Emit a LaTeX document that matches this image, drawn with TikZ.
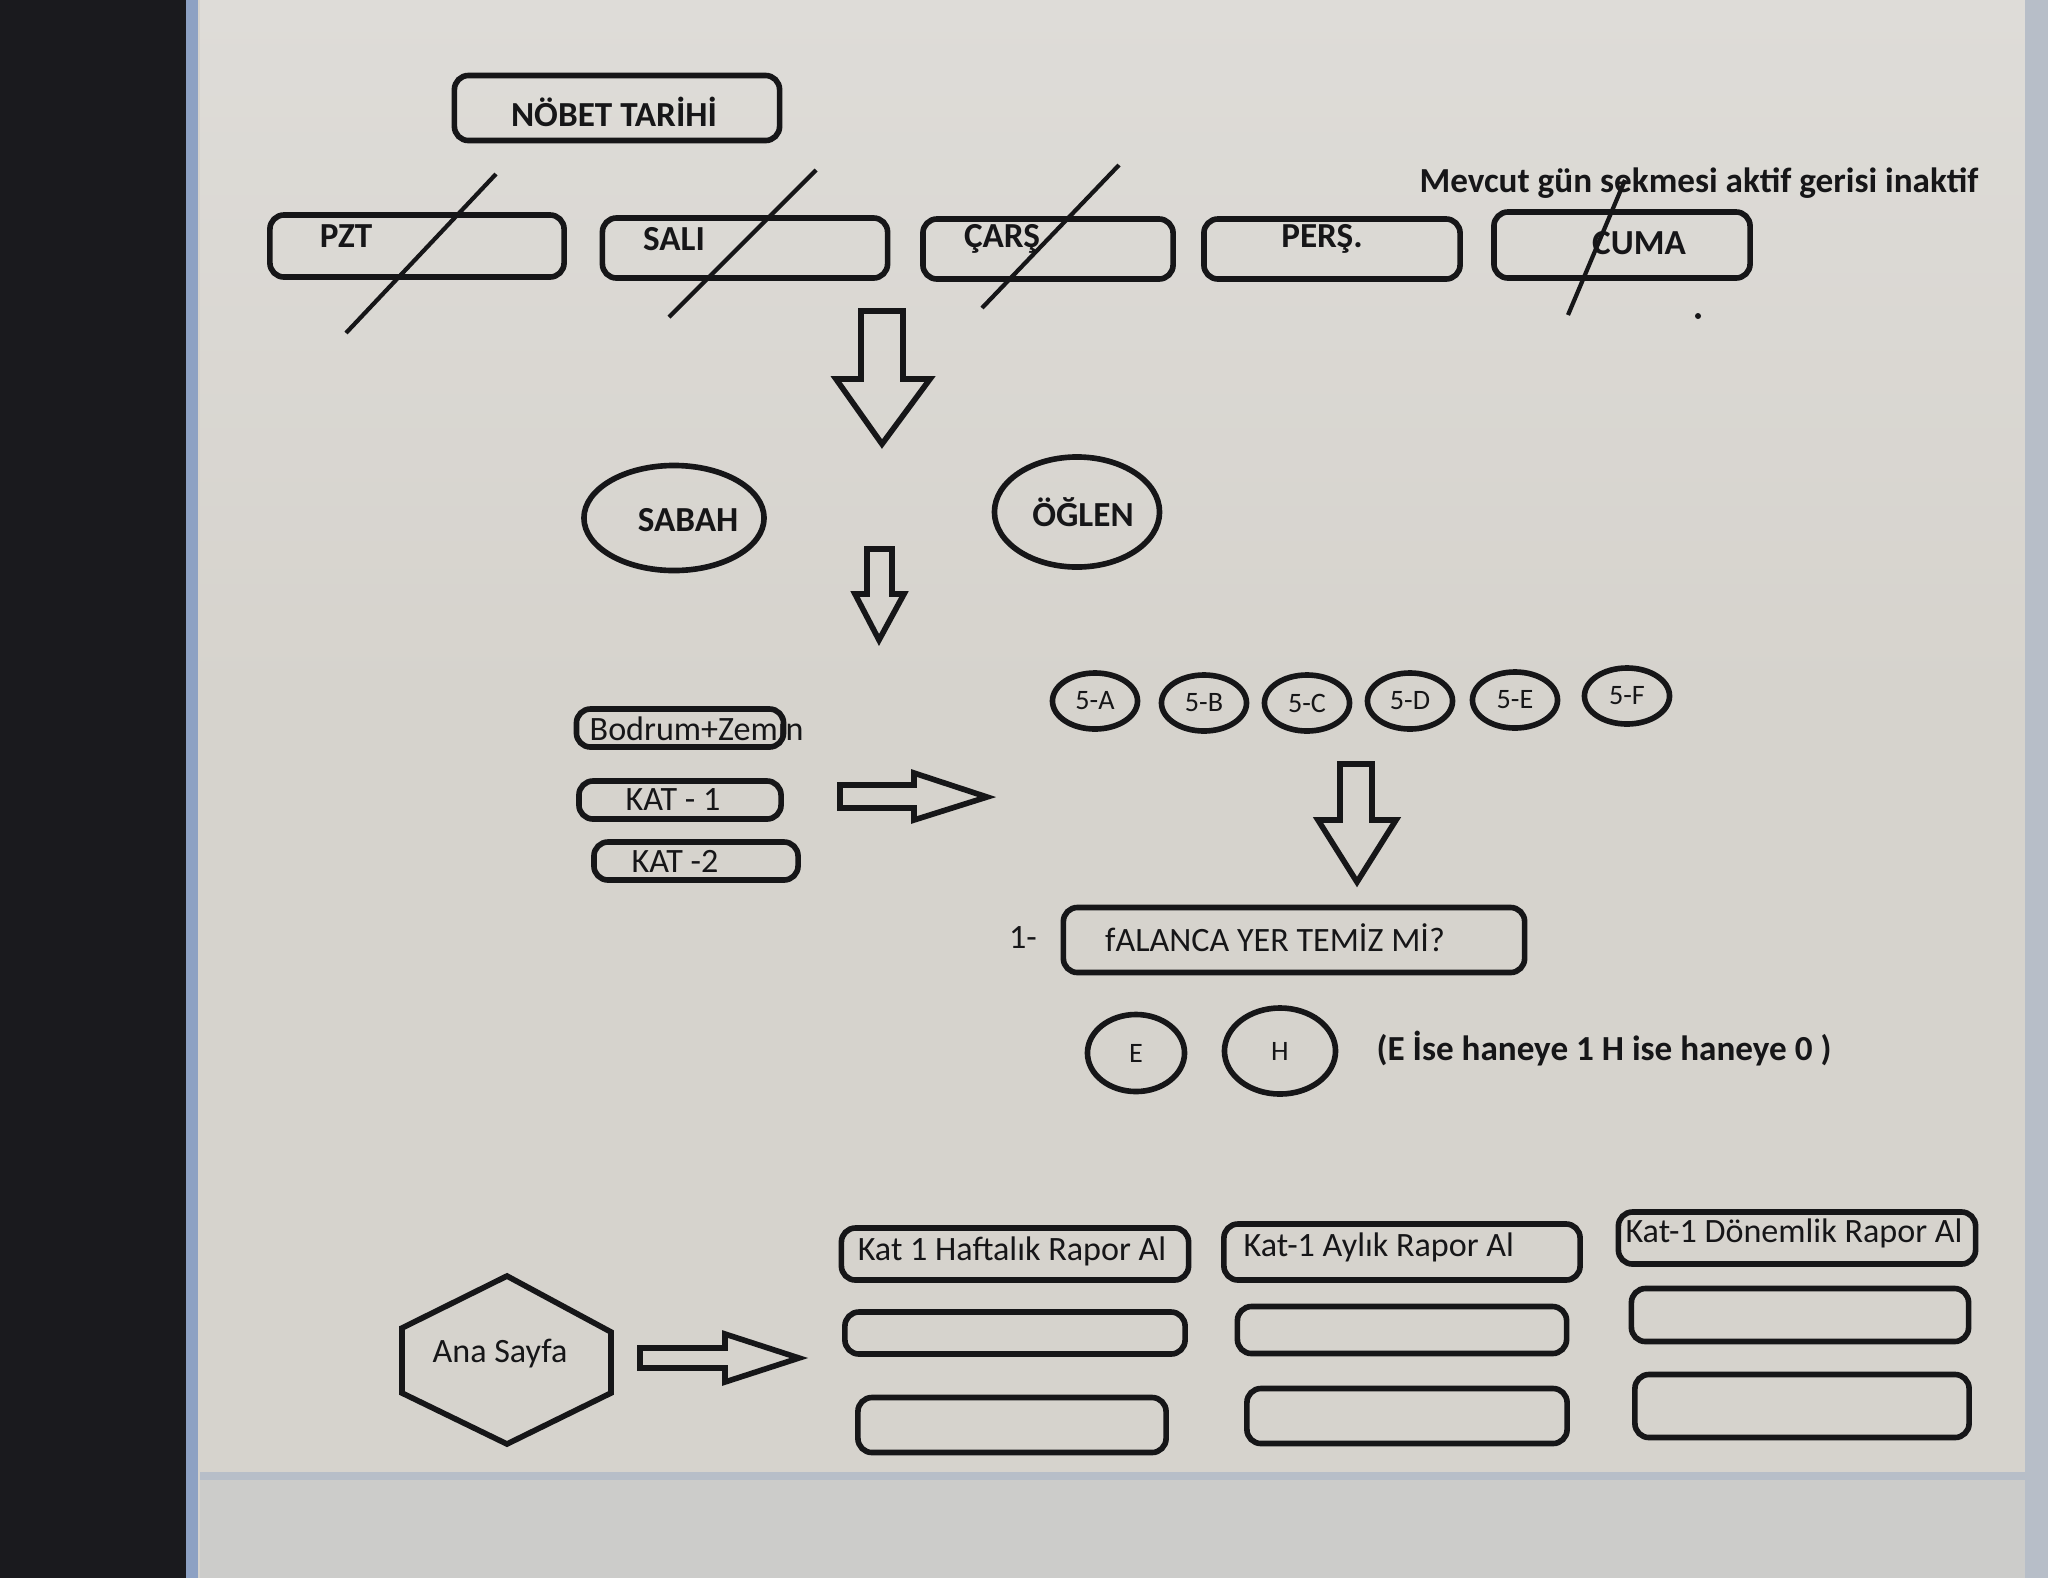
\documentclass[tikz,border=0pt]{standalone}
\usepackage{fontspec}
\setmainfont{Carlito}
\usetikzlibrary{shapes.geometric}
\definecolor{ink}{RGB}{22,22,24}
\definecolor{screen}{RGB}{214,211,205}
\definecolor{screentop}{RGB}{222,220,216}
\definecolor{bezel}{RGB}{26,26,30}
\definecolor{edgeblue}{RGB}{110,140,190}
\definecolor{lowband}{RGB}{204,204,202}
\begin{document}
\begin{tikzpicture}[x=0.01cm,y=-0.01cm,
  rbox/.style={draw=ink, line width=1.6pt, rounded corners=4pt, inner sep=0pt},
  oval/.style={draw=ink, ellipse, line width=1.6pt, inner sep=0pt},
  txt/.style={text=ink, inner sep=0pt, font=\fontsize{9.7}{12}\selectfont},
  btxt/.style={text=ink, inner sep=0pt, font=\fontsize{10}{12}\selectfont\bfseries},
  stxt/.style={text=ink, inner sep=0pt, font=\fontsize{8}{10}\selectfont},
  slash/.style={draw=ink, line width=1.2pt},
  blockarrow/.style={draw=ink, line width=1.6pt, line join=miter}]
\useasboundingbox (0,0) rectangle (2048,1578);
% screen and frame
\fill[screen] (0,0) rectangle (2048,1578);
\shade[top color=screentop, bottom color=screen] (200,0) rectangle (2025,700);
\fill[lowband] (200,1476) rectangle (2048,1578);
\fill[edgeblue!30!screen] (200,1472) rectangle (2025,1480);
\fill[edgeblue!30!screen] (2025,0) rectangle (2048,1578);
\fill[bezel] (0,0) rectangle (186,1578);
\fill[edgeblue!70!screen] (186,0) rectangle (198,1578);

% title
\node[rbox, minimum width=3.25cm, minimum height=0.65cm] (nobet) at (617,108) {};
\node[btxt] (nobett) at (614,112) {NÖBET TARİHİ};
\node[btxt] (note) at (1699,183) {Mevcut gün sekmesi aktif gerisi inaktif};

% day tabs
\node[rbox, minimum width=2.94cm, minimum height=0.62cm] (pzt) at (417,246) {};
\node[btxt] (pztt) at (346,236) {PZT};
\node[rbox, minimum width=2.85cm, minimum height=0.60cm] (sali) at (745,248) {};
\node[btxt] (salit) at (674,239) {SALI};
\node[rbox, minimum width=2.50cm, minimum height=0.60cm] (cars) at (1048,249) {};
\node[btxt] (carst) at (1002,239) {ÇARŞ};
\node[rbox, minimum width=2.56cm, minimum height=0.60cm] (pers) at (1332,249) {};
\node[btxt] (perst) at (1322,239) {PERŞ.};
\node[rbox, minimum width=2.56cm, minimum height=0.66cm] (cuma) at (1622,245) {};
\node[btxt] (cumat) at (1639,243) {CUMA};
% strike-through marks on passed days
\draw[slash] (496,174) -- (346,333);
\draw[slash] (816,170) -- (669,317);
\draw[slash] (1119,165) -- (982,308);
\draw[slash] (1625,180) -- (1568,315);
\fill[ink] (1698,316) circle (3);

% down arrow to shifts
\draw[blockarrow] (861,311) -- (903,311) -- (903,379) -- (930,379) -- (882,444) -- (836,379) -- (861,379) -- cycle;

% shifts
\node[oval, minimum width=1.80cm, minimum height=1.05cm] (sabah) at (674,518) {};
\node[btxt] (sabaht) at (688,520) {SABAH};
\node[oval, minimum width=1.65cm, minimum height=1.10cm] (oglen) at (1077,512) {};
\node[btxt] (oglent) at (1083,512) {ÖĞLEN};

\draw[blockarrow] (867,549) -- (892,549) -- (892,594) -- (904,594) -- (879,640) -- (855,594) -- (867,594) -- cycle;

% floors
\node[txt, anchor=west] (bodt) at (589,729) {Bodrum+Zemin};
\node[rbox, minimum width=2.07cm, minimum height=0.38cm] (bodrum) at (680,728) {};
\node[rbox, minimum width=2.02cm, minimum height=0.38cm] (kat1) at (680,800) {};
\node[txt] (kat1t) at (673,800) {KAT - 1};
\node[rbox, minimum width=2.04cm, minimum height=0.38cm] (kat2) at (696,861) {};
\node[txt] (kat2t) at (675,861) {KAT -2};
\draw[blockarrow] (840,785) -- (914,785) -- (914,773) -- (987,797) -- (914,820) -- (914,808) -- (840,808) -- cycle;

% classes
\foreach \n/\x/\y in {A/1095/701, B/1204/703, C/1307/703, D/1410/701, E/1515/700, F/1627/696}{
  \node[oval, minimum width=0.85cm, minimum height=0.56cm] (c\n) at (\x,\y) {};
  \node[stxt] (c\n t) at (\x,\y) {5-\n};
}
\draw[blockarrow] (1340,764) -- (1372,764) -- (1372,820) -- (1396,820) -- (1357,882) -- (1318,820) -- (1340,820) -- cycle;

% question
\node[txt] (qnum) at (1023,938) {1-};
\node[rbox, minimum width=4.61cm, minimum height=0.65cm] (q1) at (1294,940) {};
\node[txt] (q1t) at (1275,938) {fALANCA YER TEMİZ Mİ?};
\node[oval, minimum width=0.97cm, minimum height=0.77cm] (eans) at (1136,1053) {};
\node[stxt] (eanst) at (1136,1053) {E};
\node[oval, minimum width=1.11cm, minimum height=0.86cm] (hans) at (1280,1051) {};
\node[stxt] (hanst) at (1280,1051) {H};
\node[btxt] (rule) at (1604,1049) {(E İse haneye 1 H ise haneye 0 )};

% home and reports
\coordinate (h1) at (507,1276);
\coordinate (h2) at (611,1332);
\coordinate (h3) at (611,1393);
\coordinate (h4) at (507,1444);
\coordinate (h5) at (402,1393);
\coordinate (h6) at (402,1328);
\draw[draw=ink, line width=1.6pt] (h1) -- (h2) -- (h3) -- (h4) -- (h5) -- (h6) -- cycle;
\node[txt] (home) at (500,1354) {Ana Sayfa};
\draw[blockarrow] (640,1348) -- (725,1348) -- (725,1334) -- (799,1358) -- (725,1382) -- (725,1368) -- (640,1368) -- cycle;

\node[rbox, minimum width=3.47cm, minimum height=0.52cm] (r11) at (1015,1254) {};
\node[txt] (r11t) at (1012,1251) {Kat 1 Haftalık Rapor Al};
\node[rbox, minimum width=3.56cm, minimum height=0.56cm] (r12) at (1402,1252) {};
\node[txt, anchor=west] (r12t) at (1243,1247) {Kat-1 Aylık Rapor Al};
\node[rbox, minimum width=3.57cm, minimum height=0.52cm] (r13) at (1797,1238) {};
\node[txt] (r13t) at (1794,1233) {Kat-1 Dönemlik Rapor Al};
\node[rbox, minimum width=3.40cm, minimum height=0.42cm] (r21) at (1015,1333) {};
\node[rbox, minimum width=3.29cm, minimum height=0.47cm] (r22) at (1402,1330) {};
\node[rbox, minimum width=3.37cm, minimum height=0.53cm] (r23) at (1800,1315) {};
\node[rbox, minimum width=3.08cm, minimum height=0.55cm] (r31) at (1012,1425) {};
\node[rbox, minimum width=3.20cm, minimum height=0.55cm] (r32) at (1407,1416) {};
\node[rbox, minimum width=3.34cm, minimum height=0.63cm] (r33) at (1802,1406) {};
\end{tikzpicture}
\end{document}
